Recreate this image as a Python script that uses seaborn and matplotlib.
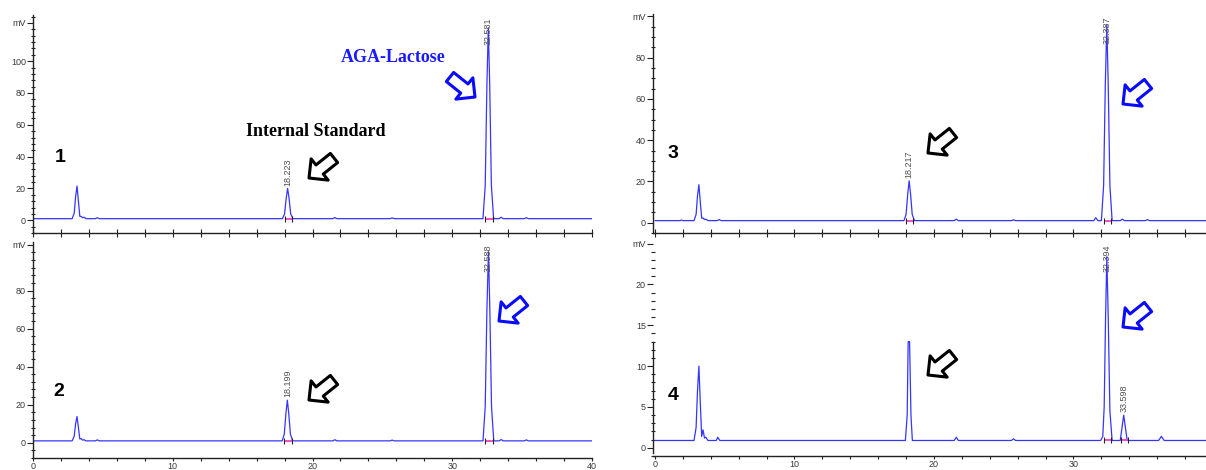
import numpy as np
import matplotlib
matplotlib.use('Agg')
import matplotlib.pyplot as plt
import seaborn as sns

# chromatogram traces: retention time (min) and signal (mV)
time_1 = [0.0, 2.8, 2.95, 3.05, 3.15, 3.25, 3.35, 3.45, 3.55, 3.65, 3.8, 4.45, 4.6, 4.75,
          17.85, 18.0, 18.12, 18.22, 18.32, 18.44, 18.6,
          21.45, 21.6, 21.75, 25.55, 25.7, 25.85,
          32.2, 32.36, 32.48, 32.58, 32.68, 32.8, 32.96,
          33.35, 33.5, 33.65, 35.15, 35.3, 35.45, 40.0]
signal_1 = [1.0, 1.0, 4.5, 15.0, 21.5, 12.0, 2.5, 2.4, 1.6, 1.9, 1.0, 1.0, 1.6, 1.0,
            1.0, 4.0, 14.0, 20.0, 14.0, 4.0, 1.0,
            1.0, 1.7, 1.0, 1.0, 1.5, 1.0,
            1.0, 22.0, 85.0, 121.0, 85.0, 22.0, 1.0,
            1.0, 1.9, 1.0, 1.0, 1.6, 1.0, 1.0]

time_2 = [0.0, 2.8, 2.95, 3.05, 3.15, 3.25, 3.35, 3.45, 3.55, 3.65, 3.8, 4.45, 4.6, 4.75,
          17.83, 17.98, 18.1, 18.2, 18.3, 18.42, 18.58,
          21.45, 21.6, 21.75, 25.55, 25.7, 25.85,
          32.2, 32.36, 32.48, 32.59, 32.69, 32.81, 32.97,
          33.35, 33.5, 33.65, 35.15, 35.3, 35.45, 40.0]
signal_2 = [1.0, 1.0, 3.5, 10.0, 13.8, 8.0, 2.0, 2.2, 1.4, 1.6, 1.0, 1.0, 1.5, 1.0,
            1.0, 4.5, 15.5, 22.4, 15.5, 4.5, 1.0,
            1.0, 1.6, 1.0, 1.0, 1.4, 1.0,
            1.0, 19.0, 70.0, 100.4, 70.0, 19.0, 1.0,
            1.0, 1.7, 1.0, 1.0, 1.5, 1.0, 1.0]

time_3 = [0.0, 1.8, 1.9, 2.0, 2.8, 2.95, 3.05, 3.15, 3.25, 3.35, 3.45, 3.55, 3.65, 3.8, 4.45, 4.6, 4.75,
          17.85, 18.0, 18.12, 18.22, 18.32, 18.44, 18.6,
          21.45, 21.6, 21.75, 25.55, 25.7, 25.85,
          31.45, 31.6, 31.75,
          32.0, 32.16, 32.28, 32.39, 32.49, 32.61, 32.77,
          33.35, 33.5, 33.65, 35.15, 35.3, 35.45, 40.0]
signal_3 = [1.0, 1.0, 1.3, 1.0, 1.0, 4.0, 13.0, 18.4, 10.0, 2.2, 2.3, 1.5, 1.7, 1.0, 1.0, 1.5, 1.0,
            1.0, 4.0, 14.0, 20.3, 14.0, 4.0, 1.0,
            1.0, 1.7, 1.0, 1.0, 1.4, 1.0,
            1.0, 2.4, 1.0,
            1.0, 18.0, 67.0, 96.0, 67.0, 18.0, 1.0,
            1.0, 1.7, 1.0, 1.0, 1.5, 1.0, 1.0]

time_4 = [0.0, 2.8, 2.95, 3.05, 3.15, 3.25, 3.35, 3.45, 3.55, 3.65, 3.8, 4.4, 4.5, 4.65,
          17.95, 18.08, 18.15, 18.25, 18.35, 18.45,
          21.45, 21.6, 21.75, 25.55, 25.7, 25.85,
          31.95, 32.1, 32.2, 32.3, 32.39, 32.49, 32.61, 32.77,
          33.35, 33.48, 33.6, 33.72, 33.85,
          36.1, 36.3, 36.5, 40.0]
signal_4 = [0.9, 0.9, 2.5, 7.0, 10.0, 5.5, 1.4, 2.2, 1.2, 1.3, 0.9, 0.9, 1.3, 0.9,
            0.9, 4.0, 13.0, 13.0, 4.0, 0.9,
            0.9, 1.3, 0.9, 0.9, 1.1, 0.9,
            0.9, 1.4, 5.0, 16.0, 23.4, 16.0, 4.5, 0.9,
            0.9, 2.5, 4.0, 2.5, 0.9,
            0.9, 1.4, 0.9, 0.9]

# labelled peaks (retention time shown above each peak)
peaks_1 = [18.223, 32.581]
peaks_2 = [18.199, 32.588]
peaks_3 = [18.217, 32.387]
peaks_4 = [32.394, 33.598]

W, H = 1206, 470
TRACE = '#3535ff'
TICK_C = '#3a3a3a'

sns.set_style('white')
plt.rcParams['font.family'] = ['Liberation Sans', 'DejaVu Sans']

fig = plt.figure(figsize=(W / 100, H / 100), dpi=100)


def px_rect(left, top, right, bottom):
    return [left / W, 1 - bottom / H, (right - left) / W, (bottom - top) / H]


def figpx(x, y):
    return (x, H - y)


panels = [
    dict(rect=px_rect(33, 15, 592, 233), ylim=(-5.6, 129), xlim=(0, 40), xt=[0, 10, 20, 30, 40],
         yt=[0, 20, 40, 60, 80, 100, 124], ystep=4, t=time_1, v=signal_1, pk=peaks_1, xlab=False),
    dict(rect=px_rect(33, 242, 592, 458), ylim=(-4.6, 105.5), xlim=(0, 40), xt=[0, 10, 20, 30, 40],
         yt=[0, 20, 40, 60, 80, 104], ystep=4, t=time_2, v=signal_2, pk=peaks_2, xlab=True),
    dict(rect=px_rect(653, 14, 1213, 233), ylim=(-4.84, 101.2), xlim=(-0.14, 40), xt=[0, 10, 20, 30],
         yt=[0, 20, 40, 60, 80, 100], ystep=5, t=time_3, v=signal_3, pk=peaks_3, xlab=False),
    dict(rect=px_rect(653, 242, 1213, 456), ylim=(-0.6, 25.2), xlim=(-0.14, 40), xt=[0, 10, 20, 30],
         yt=[0, 5, 10, 15, 20, 25], ystep=1, t=time_4, v=signal_4, pk=peaks_4, xlab=True),
]

axes = []
for p in panels:
    ax = fig.add_axes(p['rect'])
    ax.set_facecolor('none')
    sns.lineplot(x=p['t'], y=p['v'], ax=ax, color=TRACE, linewidth=0.9,
                 estimator=None, sort=False)
    ax.set_xlim(*p['xlim'])
    ax.set_ylim(*p['ylim'])
    for s in ['top', 'right']:
        ax.spines[s].set_visible(False)
    for s in ['left', 'bottom']:
        ax.spines[s].set_color('#222222')
        ax.spines[s].set_linewidth(1.0)

    labels = [str(v) for v in p['yt'][:-1]] + ['mV']
    ax.set_yticks(p['yt'])
    ax.set_yticklabels(labels)
    ax.set_yticks(np.arange(p['ylim'][0] - p['ylim'][0] % p['ystep'], p['ylim'][1], p['ystep']),
                  minor=True)
    ax.set_xticks(p['xt'])
    ax.set_xticks(np.arange(0, 41, 2), minor=True)
    if not p['xlab']:
        ax.set_xticklabels([])
        ax.tick_params(axis='x', which='both', direction='inout', length=6)
    else:
        ax.tick_params(axis='x', which='both', direction='out', length=2.5)
    ax.tick_params(axis='y', which='major', direction='out', length=4, pad=1)
    ax.tick_params(axis='y', which='minor', direction='inout', length=3)
    ax.tick_params(which='both', left=True, bottom=True, color='#222222', width=0.8)
    ax.tick_params(labelsize=6.5, labelcolor=TICK_C)
    ax.tick_params(axis='x', pad=0.3)
    ax.set_xlabel('')
    ax.set_ylabel('')

    # integration baseline and retention time labels
    t_arr = np.array(p['t'])
    v_arr = np.array(p['v'])
    base = v_arr[0]
    ax_top = ax.transAxes.transform((0, 1))[1]
    for rt in p['pk']:
        near = np.abs(t_arr - rt) < 0.25
        apex = v_arr[near].max()
        ax.plot([rt - 0.22, rt + 0.3], [base, base], color='#ff3fbf', lw=1.3, solid_capstyle='butt')
        ax.plot([rt - 0.22, rt + 0.3], [base, base], ls='none', marker='|', ms=4,
                color='#222222', mew=0.8)
        apex_px = ax.transData.transform((rt, apex))[1]
        if apex_px + 32 > ax_top:
            ax.annotate(f'{rt:.3f}', xy=(rt, 1), xycoords=('data', 'axes fraction'),
                        xytext=(0, -1.5), textcoords='offset points', rotation=90,
                        ha='center', va='top', fontsize=6.5, color='#505050')
        else:
            ax.annotate(f'{rt:.3f}', xy=(rt, apex), xytext=(0, 2), textcoords='offset points',
                        rotation=90, ha='center', va='bottom', fontsize=6.5, color='#505050')
    axes.append(ax)

# panel 4: upper part of the axis line is hidden in the original
axes[3].spines['left'].set_bounds(-0.6, 13)

# panel numbers
for num, (x, y) in zip(['1', '2', '3', '4'], [(60, 157), (59, 391), (673, 154), (673, 395)]):
    fig.text(x / W, 1 - y / H, num, fontsize=14, fontweight='bold', ha='center', va='center',
             color='black')

serif = ['Liberation Serif', 'DejaVu Serif']
fig.text(393 / W, 1 - 57 / H, 'AGA-Lactose', fontsize=13, fontweight='bold', color='#1a1aff',
         ha='center', va='center', family=serif)
fig.text(316 / W, 1 - 132 / H, 'Internal Standard', fontsize=13, fontweight='bold', color='black',
         ha='center', va='center', family=serif)

# hollow block arrows (tip, tail) in pixels from top-left
arrows = [
    ((309, 178), (334, 158), 'black'),
    ((475, 97), (450, 77), '#0a0aff'),
    ((309, 400), (334, 380), 'black'),
    ((499, 321), (524, 301), '#0a0aff'),
    ((928, 153), (953, 133), 'black'),
    ((1123, 104), (1148, 84), '#0a0aff'),
    ((928, 375), (953, 355), 'black'),
    ((1123, 327), (1148, 307), '#0a0aff'),
]
for tip, tail, c in arrows:
    axes[0].annotate('', xy=figpx(*tip), xycoords='figure pixels',
                     xytext=figpx(*tail), textcoords='figure pixels',
                     annotation_clip=False,
                     arrowprops=dict(arrowstyle='simple,head_length=0.7,head_width=1.4,tail_width=0.6',
                                     mutation_scale=14, fc='white', ec=c, lw=2.2,
                                     shrinkA=0, shrinkB=0, clip_on=False))

fig.savefig('out.png', dpi=100, facecolor='white')
